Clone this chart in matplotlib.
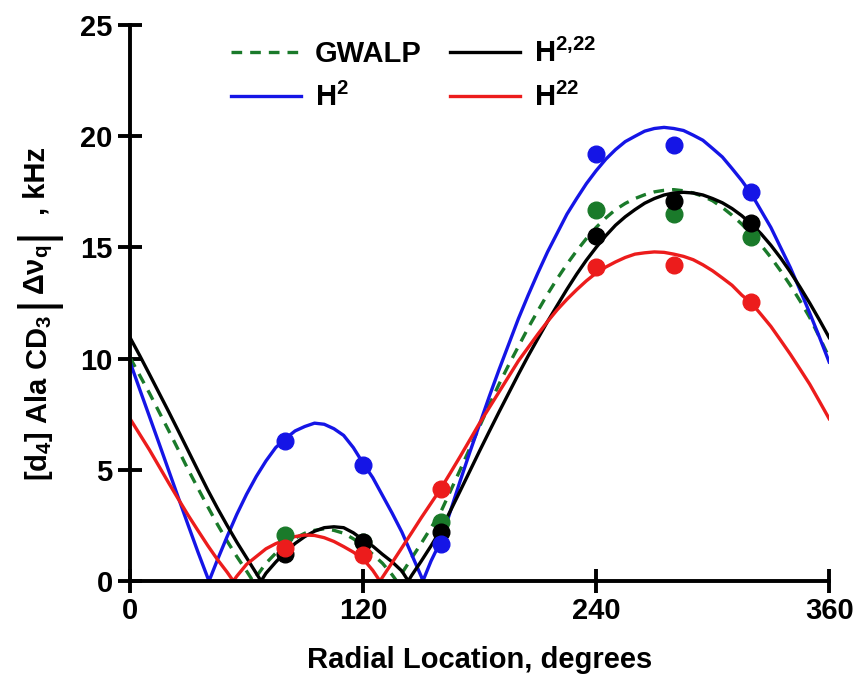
import matplotlib
matplotlib.use("Agg")
import matplotlib.pyplot as plt

plt.rcParams['font.family'] = ['Liberation Sans', 'DejaVu Sans']
plt.rcParams['font.weight'] = 'bold'
plt.rcParams['mathtext.fontset'] = 'custom'
plt.rcParams['mathtext.rm'] = 'Liberation Sans:bold'
plt.rcParams['mathtext.it'] = 'Liberation Sans:bold'
plt.rcParams['mathtext.bf'] = 'Liberation Sans:bold'
plt.rcParams['mathtext.sf'] = 'Liberation Sans:bold'

grid_deg = list(range(0, 361, 5))

gwalp_fit = [10.05, 9.25, 8.45, 7.6, 6.75, 5.88, 5.0, 4.17, 3.35, 2.55, 1.8, 1.1, 0.45, 0.2,
             0.8, 1.25, 1.65, 1.93, 2.15, 2.28, 2.35, 2.28, 2.15, 1.9, 1.6, 1.2, 0.8, 0.28,
             0.35, 1.03, 1.7, 2.4, 3.1, 4.05, 5.0, 5.98, 6.95, 7.92, 8.85, 9.72, 10.55, 11.38,
             12.15, 12.9, 13.6, 14.25, 14.85, 15.4, 15.9, 16.33, 16.7, 16.98, 17.2, 17.37,
             17.5, 17.57, 17.6, 17.55, 17.45, 17.3, 17.1, 16.8, 16.45, 16.05, 15.6, 15.1,
             14.55, 13.95, 13.3, 12.6, 11.85, 10.97, 10.05]
h2_fit = [9.85, 8.62, 7.4, 6.18, 4.95, 3.72, 2.5, 1.3, 0.15, 0.95, 2.0, 3.0, 3.9, 4.7, 5.4,
          6.0, 6.4, 6.75, 6.95, 7.1, 7.05, 6.85, 6.55, 6.0, 5.3, 4.65, 3.85, 3.05, 2.2, 1.2,
          0.2, 0.9, 1.8, 3.15, 4.5, 5.8, 7.05, 8.3, 9.5, 10.65, 11.8, 12.85, 13.85, 14.8,
          15.65, 16.5, 17.2, 17.87, 18.45, 18.97, 19.4, 19.76, 20.0, 20.23, 20.35, 20.4,
          20.35, 20.26, 20.05, 19.82, 19.45, 19.07, 18.55, 18.01, 17.4, 16.65, 15.9, 15.0,
          14.1, 13.09, 12.05, 10.97, 9.85]
h22_fit = [7.3, 6.6, 5.9, 5.15, 4.4, 3.67, 2.95, 2.27, 1.6, 0.97, 0.4, 0.22, 0.75, 1.1, 1.45,
           1.68, 1.85, 2.0, 2.07, 2.05, 1.95, 1.78, 1.55, 1.3, 1.0, 0.48, 0.17, 0.83, 1.5,
           2.17, 2.85, 3.5, 4.15, 4.87, 5.6, 6.35, 7.1, 7.8, 8.5, 9.2, 9.9, 10.5, 11.1, 11.67,
           12.2, 12.67, 13.1, 13.5, 13.85, 14.12, 14.35, 14.55, 14.7, 14.76, 14.8, 14.78,
           14.7, 14.6, 14.45, 14.22, 13.95, 13.63, 13.3, 12.86, 12.5, 11.98, 11.45, 10.83,
           10.2, 9.53, 8.85, 8.08, 7.3]
h2_22_fit = [10.95, 10.14, 9.3, 8.45, 7.6, 6.73, 5.85, 4.97, 4.1, 3.28, 2.5, 1.75, 1.05, 0.35,
             0.35, 0.85, 1.3, 1.69, 2.0, 2.24, 2.4, 2.44, 2.4, 2.17, 1.85, 1.57, 1.2, 0.86,
             0.45, 0.25, 0.9, 1.58, 2.3, 3.16, 4.05, 4.95, 5.85, 6.73, 7.6, 8.45, 9.3, 10.12,
             10.9, 11.67, 12.4, 13.12, 13.8, 14.43, 15.0, 15.53, 16.0, 16.38, 16.7, 16.99,
             17.2, 17.36, 17.45, 17.48, 17.45, 17.36, 17.2, 17.01, 16.75, 16.43, 16.05, 15.61,
             15.1, 14.53, 13.9, 13.22, 12.5, 11.74, 10.95]

# where each curve touches zero
gwalp_zeros = [63.3, 137.3]
h2_zeros = [40.7, 150.8]
h22_zeros = [53.2, 128.7]
h2_22_zeros = [67.5, 143.3]

# measured splittings
point_deg = [80, 120, 160, 240, 280, 320]
gwalp_pts = [2.05, 1.75, 2.65, 16.7, 16.5, 15.45]
h2_pts = [6.3, 5.2, 1.65, 19.2, 19.6, 17.5]
h22_pts = [1.5, 1.15, 4.15, 14.1, 14.2, 12.55]
h2_22_pts = [1.2, 1.75, 2.2, 15.5, 17.1, 16.1]

GREEN = '#1a7a2a'
BLUE = '#1515e6'
RED = '#ec1c1c'
BLACK = 'black'


def with_zeros(values, zeros):
    pts = list(zip(grid_deg, values)) + [(z, 0.0) for z in zeros]
    pts.sort()
    return [p[0] for p in pts], [p[1] for p in pts]


fig = plt.figure(figsize=(8.61, 6.78), dpi=100)
ax = fig.add_axes([0.151, 0.143, 0.812, 0.820])

lw = 2.4
x, y = with_zeros(gwalp_fit, gwalp_zeros)
ax.plot(x, y, color=GREEN, lw=lw, dashes=(3.2, 2.4), label='GWALP', zorder=3)
x, y = with_zeros(h2_fit, h2_zeros)
ax.plot(x, y, color=BLUE, lw=lw, label=r'H$^{2}$', zorder=3)
x, y = with_zeros(h2_22_fit, h2_22_zeros)
ax.plot(x, y, color=BLACK, lw=lw, label=r'H$^{2{,}22}$', zorder=3)
x, y = with_zeros(h22_fit, h22_zeros)
ax.plot(x, y, color=RED, lw=lw, label=r'H$^{22}$', zorder=3)

ms = 12
ax.plot(point_deg, gwalp_pts, 'o', color=GREEN, ms=ms, zorder=4)
ax.plot(point_deg, h2_22_pts, 'o', color=BLACK, ms=ms, zorder=4)
ax.plot(point_deg, h22_pts, 'o', color=RED, ms=ms, zorder=4)
ax.plot(point_deg, h2_pts, 'o', color=BLUE, ms=ms, zorder=4)

ax.set_xlim(0, 360)
ax.set_ylim(0, 25)
ax.set_xticks([0, 120, 240, 360])
ax.set_yticks([0, 5, 10, 15, 20, 25])

for side in ['top', 'right']:
    ax.spines[side].set_visible(False)
for side in ['left', 'bottom']:
    ax.spines[side].set_linewidth(2.8)
    ax.spines[side].set_zorder(5)

ax.tick_params(axis='both', direction='inout', length=17, width=2.8, labelsize=21)
ax.tick_params(axis='y', pad=4)
ax.tick_params(axis='x', pad=3)
for lab in ax.get_xticklabels() + ax.get_yticklabels():
    lab.set_fontweight('bold')

ax.set_xlabel('Radial Location, degrees', fontsize=21, fontweight='bold', labelpad=15)

# y label in pieces so the absolute-value bars can be drawn tall
ylab_kw = dict(rotation=90, ha='center', va='center', fontsize=21, fontweight='bold')
bar_kw = dict(ylab_kw, fontsize=36, fontweight='normal')
fig.text(0.045, 0.413, '[d$_4$] Ala CD$_3$', **ylab_kw)
fig.text(0.042, 0.5546, '|', **bar_kw)
fig.text(0.045, 0.6018, 'Δν$_q$', **ylab_kw)
fig.text(0.042, 0.6563, '|', **bar_kw)
fig.text(0.042, 0.733, ', kHz', **ylab_kw)

handles, labels = ax.get_legend_handles_labels()
leg = ax.legend(handles, labels, ncol=2, loc='upper left', bbox_to_anchor=(0.145, 0.975),
                frameon=False, fontsize=21, handlelength=2.4, handletextpad=0.45,
                columnspacing=1.0, labelspacing=0.5, borderpad=0, borderaxespad=0)
for t in leg.get_texts():
    t.set_fontweight('bold')

fig.savefig('out.png', dpi=100)
